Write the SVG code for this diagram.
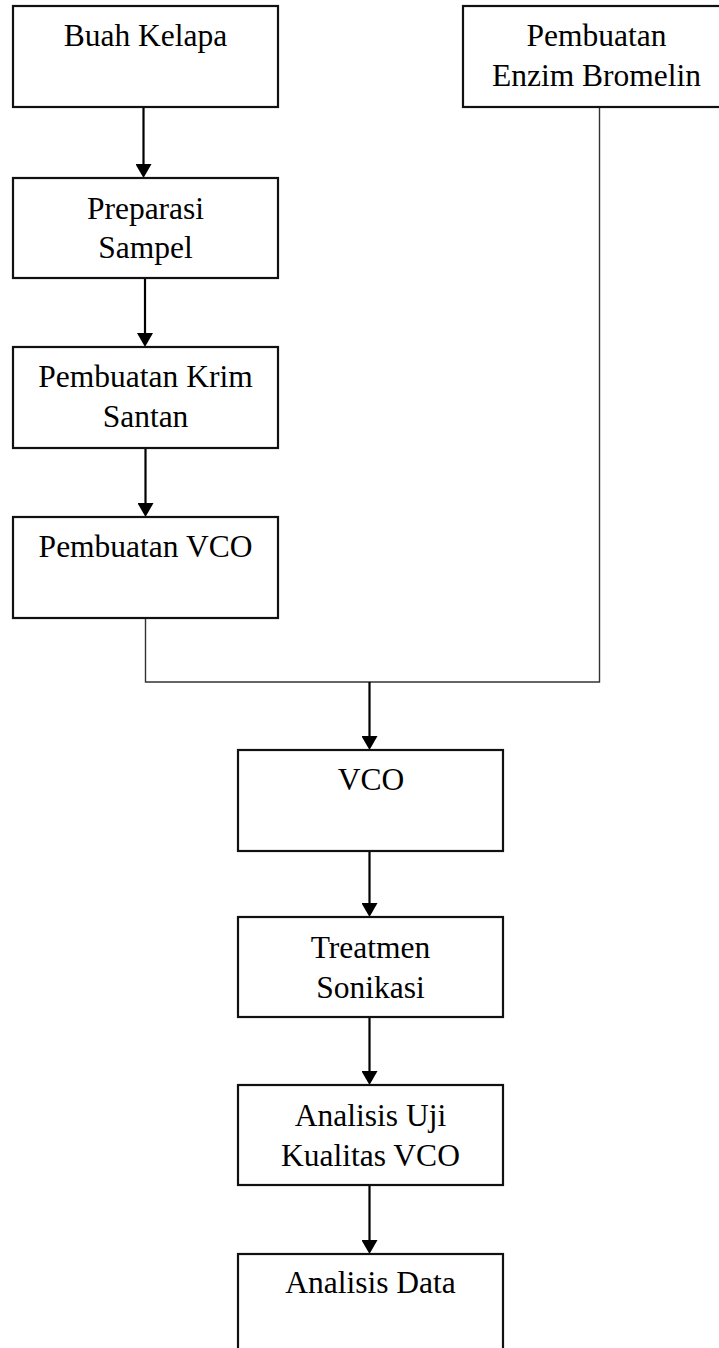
<svg xmlns="http://www.w3.org/2000/svg" width="719" height="1348" viewBox="0 0 719 1348">
<defs>
<marker id="ah" viewBox="0 0 14 16" refX="7" refY="8" markerWidth="14" markerHeight="16" markerUnits="userSpaceOnUse" orient="auto">
<path d="M0,0 L14,8 L0,16 Z" fill="#000"/>
</marker>
</defs>
<style>
.box{fill:#fff;stroke:#111;stroke-width:2.2}
.t{font-family:"Liberation Serif","Times New Roman",serif;font-size:31.5px;fill:#000;text-anchor:middle}
.arr{stroke:#000;stroke-width:2.2;fill:none}
.thin{stroke:#333;stroke-width:1.4;fill:none}
</style>
<rect width="719" height="1348" fill="#fff"/>
<g id="connectors">
<line class="arr" x1="143.5" y1="107" x2="143.5" y2="171" marker-end="url(#ah)"/>
<line class="arr" x1="145" y1="278" x2="145" y2="340" marker-end="url(#ah)"/>
<line class="arr" x1="145.5" y1="448" x2="145.5" y2="510" marker-end="url(#ah)"/>
<polyline class="thin" points="145.5,618 145.5,682 599.5,682 599.5,107"/>
<line class="arr" x1="369.5" y1="682" x2="369.5" y2="743" marker-end="url(#ah)"/>
<line class="arr" x1="369.5" y1="851" x2="369.5" y2="910" marker-end="url(#ah)"/>
<line class="arr" x1="369.5" y1="1017" x2="369.5" y2="1078" marker-end="url(#ah)"/>
<line class="arr" x1="369.5" y1="1185" x2="369.5" y2="1247" marker-end="url(#ah)"/>
</g>
<g id="buah-kelapa">
<rect class="box" x="13" y="6" width="265" height="101"/>
<text class="t" x="145.5" y="46">Buah Kelapa</text>
</g>
<g id="preparasi-sampel">
<rect class="box" x="13" y="178" width="265" height="100"/>
<text class="t" x="145.5" y="218.5">Preparasi</text>
<text class="t" x="145.5" y="258">Sampel</text>
</g>
<g id="pembuatan-krim-santan">
<rect class="box" x="13" y="347" width="265" height="101"/>
<text class="t" x="145.5" y="387">Pembuatan Krim</text>
<text class="t" x="145.5" y="427">Santan</text>
</g>
<g id="pembuatan-vco">
<rect class="box" x="13" y="517" width="265" height="101"/>
<text class="t" x="145.5" y="557">Pembuatan VCO</text>
</g>
<g id="pembuatan-enzim-bromelin">
<rect class="box" x="463" y="6" width="265" height="101"/>
<text class="t" x="596.5" y="46">Pembuatan</text>
<text class="t" x="596.5" y="86">Enzim Bromelin</text>
</g>
<g id="vco">
<rect class="box" x="238" y="750" width="265" height="101"/>
<text class="t" x="371" y="790">VCO</text>
</g>
<g id="treatmen-sonikasi">
<rect class="box" x="238" y="917" width="265" height="100"/>
<text class="t" x="370.5" y="957.5">Treatmen</text>
<text class="t" x="370.5" y="997.5">Sonikasi</text>
</g>
<g id="analisis-uji-kualitas-vco">
<rect class="box" x="238" y="1085" width="265" height="100"/>
<text class="t" x="370.5" y="1126">Analisis Uji</text>
<text class="t" x="370.5" y="1165.5">Kualitas VCO</text>
</g>
<g id="analisis-data">
<rect class="box" x="238" y="1254" width="265" height="110"/>
<text class="t" x="370.5" y="1293">Analisis Data</text>
</g>
</svg>
